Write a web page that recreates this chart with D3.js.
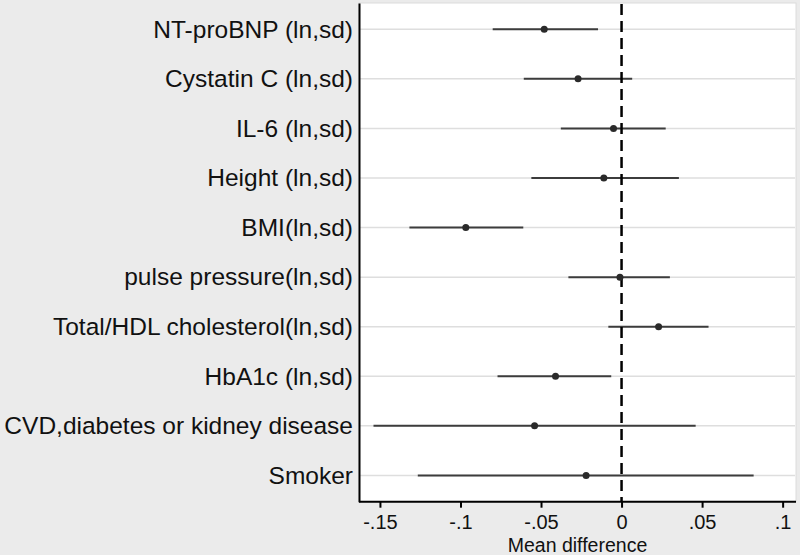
<!DOCTYPE html>
<html><head><meta charset="utf-8">
<script src="https://cdn.jsdelivr.net/npm/d3@7"></script>
<style>
html,body{margin:0;padding:0;background:#ebebeb;}
svg{display:block;font-family:"Liberation Sans",Arial,sans-serif;}
</style></head>
<body>
<svg id="chart" width="800" height="555"></svg>
<script>
const categories = ["NT-proBNP (ln,sd)","Cystatin C (ln,sd)","IL-6 (ln,sd)","Height (ln,sd)","BMI(ln,sd)","pulse pressure(ln,sd)","Total/HDL cholesterol(ln,sd)","HbA1c (ln,sd)","CVD,diabetes or kidney disease","Smoker"];
const estimates = [-0.048,-0.027,-0.005,-0.011,-0.0967,-0.001,0.023,-0.041,-0.054,-0.022];
const lower = [-0.080,-0.0607,-0.0377,-0.056,-0.1317,-0.033,-0.0082,-0.077,-0.154,-0.1265];
const upper = [-0.0146,0.0066,0.0274,0.0356,-0.061,0.030,0.054,-0.0064,0.046,0.082];
const xTicks = [-0.15,-0.1,-0.05,0,0.05,0.1];
const xTickLabels = ["-.15","-.1","-.05","0",".05",".1"];
const xTitle = "Mean difference";

const svg = d3.select("#chart");
const L = 359, R = 796, T = 3, B = 501.7;
const x = d3.scaleLinear().domain([-0.163, 0.1083]).range([L, R]);
const y = d3.scalePoint().domain(categories).range([T, B]).padding(0.53);

// plot background
svg.append("rect").attr("x", L).attr("y", T).attr("width", R - L).attr("height", B - T)
  .attr("fill", "#fff").attr("stroke", "#dcdcdc").attr("stroke-width", 1);

// gridlines
svg.append("g").selectAll("line").data(categories).join("line")
  .attr("x1", L).attr("x2", R - 1).attr("y1", d => y(d)).attr("y2", d => y(d))
  .attr("stroke", "#dedede").attr("stroke-width", 1.5);

// CI lines
svg.append("g").selectAll("line").data(categories).join("line")
  .attr("x1", (d, i) => x(lower[i])).attr("x2", (d, i) => x(upper[i]))
  .attr("y1", d => y(d)).attr("y2", d => y(d))
  .attr("stroke", "#3c3c3c").attr("stroke-width", 2);

// reference line at 0
svg.append("line").attr("x1", x(0)).attr("x2", x(0)).attr("y1", T + 1).attr("y2", B)
  .attr("stroke", "#000").attr("stroke-width", 2.5).attr("stroke-dasharray", "11,6");

// points
svg.append("g").selectAll("circle").data(categories).join("circle")
  .attr("cx", (d, i) => x(estimates[i])).attr("cy", d => y(d)).attr("r", 3.5)
  .attr("fill", "#2a2a2a");

// y axis
const yAxis = d3.axisLeft(y).tickSize(0).tickPadding(6);
const gy = svg.append("g").attr("transform", `translate(${L},0)`).call(yAxis);
gy.select(".domain").attr("stroke", "#000").attr("stroke-width", 2);
gy.selectAll("text").attr("font-size", 24.5).attr("fill", "#111")
  .attr("font-family", "'Liberation Sans',Arial,sans-serif");

// x axis
const xAxis = d3.axisBottom(x).tickValues(xTicks).tickFormat((d, i) => xTickLabels[i])
  .tickSize(6).tickSizeOuter(0).tickPadding(7);
const gx = svg.append("g").attr("transform", `translate(0,${B})`).call(xAxis);
gx.select(".domain").attr("stroke", "#000").attr("stroke-width", 2)
  .attr("d", `M${L},0H${R}`);
gx.selectAll(".tick line").attr("stroke", "#000").attr("stroke-width", 2);
gx.selectAll("text").attr("font-size", 20).attr("fill", "#111")
  .attr("font-family", "'Liberation Sans',Arial,sans-serif");

svg.append("text").attr("x", (L + R) / 2).attr("y", 551.5).attr("text-anchor", "middle")
  .attr("font-size", 19.5).attr("fill", "#111").text(xTitle);
</script>
</body></html>
